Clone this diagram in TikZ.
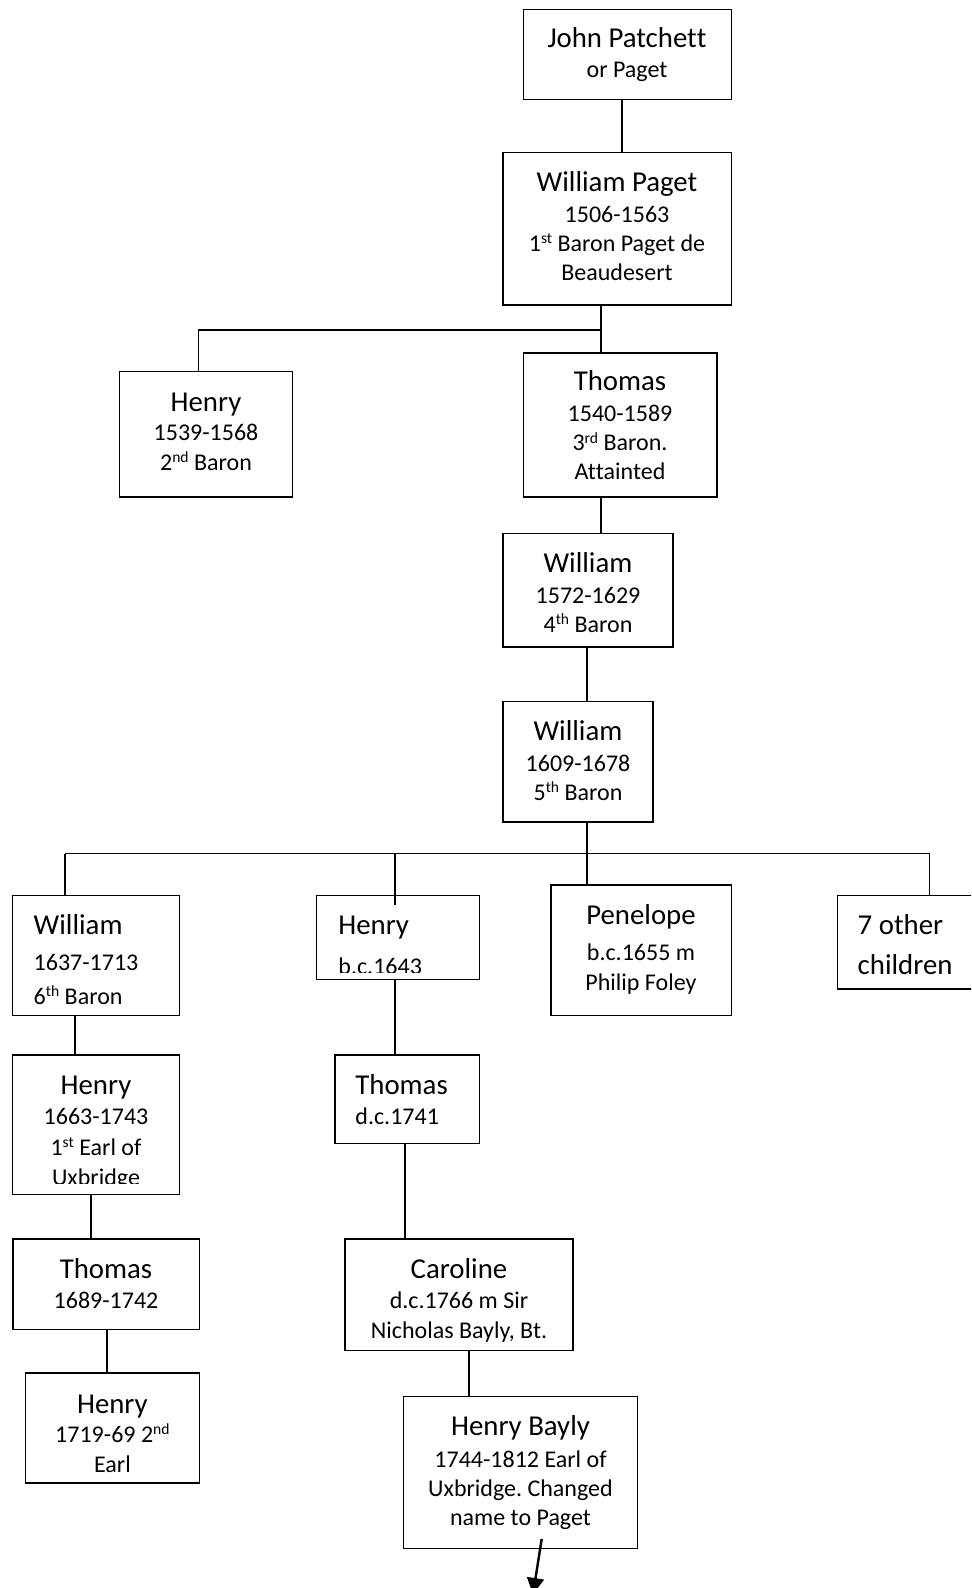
\documentclass[tikz,border=0pt]{standalone}
\usepackage{fontspec}
\setmainfont[Ligatures={NoCommon}]{Carlito}
\usetikzlibrary{fit,arrows.meta}
% ordinal suffix set small and raised
\newcommand\supx[1]{\raisebox{3.8pt}{\fontsize{7.8}{9}\selectfont #1}}
\frenchspacing
\begin{document}
\begin{tikzpicture}[x=0.5pt,y=-0.5pt,
  box/.style={draw,line width=0.6pt,inner sep=0pt,rectangle},
  nm/.style={font=\fontsize{14.4}{17}\selectfont,inner sep=0pt,anchor=base},
  sm/.style={font=\fontsize{12}{14}\selectfont,inner sep=0pt,anchor=base},
  lnm/.style={nm,anchor=base west},
  lsm/.style={sm,anchor=base west},
  link/.style={line width=0.85pt},
]
\useasboundingbox (0,0) rectangle (971,1588);
\clip (0,0) rectangle (971,1588);

% ---------- boxes ----------
\node[box,fit={(523.5,9.5) (731.5,99.3)}]    (jp)  {};
\node[box,fit={(503,152.7) (731.5,305)}]     (wp)  {};
\node[box,fit={(119.5,371.6) (292.6,497)}]   (h2)  {};
\node[box,fit={(523.5,353) (717,497)}]       (t3)  {};
\node[box,fit={(503,533.6) (673,647)}]       (w4)  {};
\node[box,fit={(503,701.7) (653,822)}]       (w5)  {};
\node[box,fit={(12.7,895.7) (179.3,1015.7)}] (w6)  {};
\node[box,fit={(316.7,895.7) (479.3,979.3)}] (hb)  {};
\node[box,fit={(551,885) (731.3,1015.7)}]    (pf)  {};
\node[box,fit={(837.3,895.7) (1000,989)}]    (oc)  {};
\node[box,fit={(12.7,1055) (179.3,1194.3)}]  (he1) {};
\node[box,fit={(335,1055) (479.3,1143.3)}]   (td)  {};
\node[box,fit={(13,1239) (199.5,1329.4)}]    (t89) {};
\node[box,fit={(25.3,1373) (199.5,1483)}]    (h19) {};
\node[box,fit={(345,1239) (573,1350.7)}]     (car) {};
\node[box,fit={(403.3,1396.7) (637.7,1548.3)}] (hby) {};

% ---------- connectors ----------
\coordinate (railA) at (198.5,330);
\coordinate (railB) at (601,330);
\coordinate (railC) at (64.8,853.5);
\coordinate (railD) at (929.5,853.5);
\coordinate (hbin) at (395.3,905);
\coordinate (heir) at (533,1594);

\draw[link] (jp.south -| 621.7,0) -- (wp.north -| 621.7,0);
\draw[link] (wp.south -| 601,0) -- (t3.north -| 601,0);
\draw[link] (railB) -- (railA) -- (h2.north -| railA);
\draw[link] (t3.south -| 601,0) -- (w4.north -| 601,0);
\draw[link] (w4.south -| 587,0) -- (w5.north -| 587,0);
\draw[link] (w5.south -| 587,0) -- (pf.north -| 587,0);
\draw[link] (railC) -- (railD);
\draw[link] (railC) -- (w6.north -| railC);
\draw[link] (railD) -- (oc.north -| railD);
\draw[link] (railC -| hbin) -- (hbin);
\draw[link] (w6.south -| 75,0) -- (he1.north -| 75,0);
\draw[link] (hb.south -| 395.3,0) -- (td.north -| 395.3,0);
\draw[link] (he1.south -| 91,0) -- (t89.north -| 91,0);
\draw[link] (td.south -| 405.3,0) -- (car.north -| 405.3,0);
\draw[link] (t89.south -| 107.3,0) -- (h19.north -| 107.3,0);
\draw[link] (car.south -| 469,0) -- (hby.north -| 469,0);
\draw[line width=1.2pt,-{Triangle[length=8pt,width=8.5pt]}] (hby.south -| 541.7,0) ++(0,-10) -- (heir);

% ---------- texts ----------
\node[nm] (jp1) at (627,47.5) {John Patchet\kern0pt t};
\node[sm] (jp2) at (627,78) {or Paget};

\node[nm] (wp1) at (617,191.7) {William Paget};
\node[sm] (wp2) at (617,222.5) {1506-1563};
\node[sm] (wp3) at (617,251.5) {1\supx{st} Baron Paget de};
\node[sm] (wp4) at (617,280.5) {Beaudesert};

\node[nm] (h21) at (206,411.5) {Henry};
\node[sm] (h22) at (206,441) {1539-1568};
\node[sm] (h23) at (206,470) {2\supx{nd} Baron};

\node[nm] (t31) at (620,391) {Thomas};
\node[sm] (t32) at (620,421.5) {1540-1589};
\node[sm] (t33) at (620,451) {3\supx{rd} Baron.};
\node[sm] (t34) at (620,480) {At\kern0pt tainted};

\node[nm] (w41) at (588,572.5) {William};
\node[sm] (w42) at (588,603) {1572-1629};
\node[sm] (w43) at (588,632) {4\supx{th} Baron};

\node[nm] (w51) at (578,740.5) {William};
\node[sm] (w52) at (578,771) {1609-1678};
\node[sm] (w53) at (578,800) {5\supx{th} Baron};

\node[lnm] (w61) at (33.3,934) {William};
\node[lsm] (w62) at (33.3,970) {1637-1713};
\node[lsm] (w63) at (33.3,1004) {6\supx{th} Baron};

\begin{scope}
  \clip (316.7,895.7) rectangle (479.3,972);
  \node[lnm] (hb1) at (338,934) {Henry};
  \node[lsm] (hb2) at (338,974) {b.c.1643};
\end{scope}

\node[nm] (pf1) at (641,924) {Penelope};
\node[sm] (pf2) at (641,960) {b.c.1655 m};
\node[sm] (pf3) at (641,990.5) {Philip Foley};

\node[lnm] (oc1) at (857.3,934.3) {7 other};
\node[lnm] (oc2) at (857.3,974.3) {children};

\begin{scope}
  \clip (12.7,1055) rectangle (179.3,1183.3);
  \node[nm] (he11) at (96,1094) {Henry};
  \node[sm] (he12) at (96,1124) {1663-1743};
  \node[sm] (he13) at (96,1155) {1\supx{st} Earl of};
  \node[sm] (he14) at (96,1185.5) {Uxbridge};
\end{scope}

\node[lnm] (td1) at (355,1094) {Thomas};
\node[lsm] (td2) at (355,1124) {d.c.1741};

\node[nm] (t891) at (106,1278) {Thomas};
\node[sm] (t892) at (106,1308.5) {1689-1742};

\node[nm] (h191) at (112.4,1413) {Henry};
\node[sm] (h192) at (112.4,1442) {1719-69 2\supx{nd}};
\node[sm] (h193) at (112.4,1472.5) {Earl};

\node[nm] (car1) at (459,1278) {Caroline};
\node[sm] (car2) at (459,1308.5) {d.c.1766 m Sir};
\node[sm] (car3) at (459,1338) {Nicholas Bayly, Bt.};

\node[nm] (hby1) at (520.5,1435) {Henry Bayly};
\node[sm] (hby2) at (520.5,1467) {1744-1812 Earl of};
\node[sm] (hby3) at (520.5,1496.5) {Uxbridge. Changed};
\node[sm] (hby4) at (520.5,1525) {name to Paget};
\end{tikzpicture}
\end{document}
